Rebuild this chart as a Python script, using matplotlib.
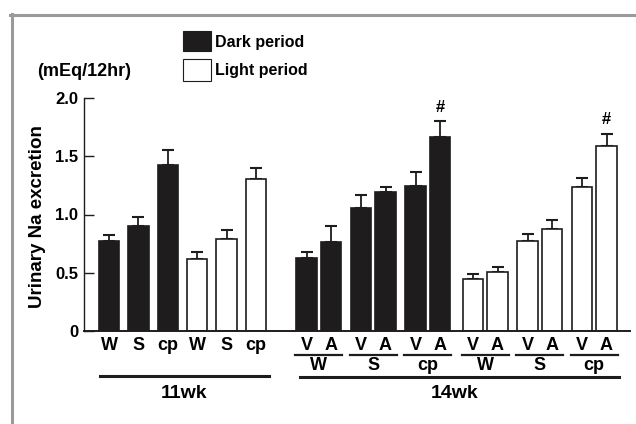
import matplotlib

matplotlib.use("Agg")
import matplotlib.pyplot as plt
from matplotlib.patches import Rectangle
from matplotlib.lines import Line2D
from matplotlib.transforms import blended_transform_factory

plt.rcParams["font.family"] = ["Liberation Sans", "DejaVu Sans"]
plt.rcParams["font.weight"] = "bold"

# --------------------------------------------------------------------------- #
# Data
# --------------------------------------------------------------------------- #
strains = ["W", "S", "cp"]
treatments = ["V", "A"]

wk11_dark = [0.775, 0.905, 1.425]
wk11_dark_err = [0.05, 0.075, 0.125]
wk11_light = [0.62, 0.79, 1.305]
wk11_light_err = [0.06, 0.08, 0.095]

# order: W-V, W-A, S-V, S-A, cp-V, cp-A
wk14_dark = [0.625, 0.765, 1.06, 1.19, 1.245, 1.665]
wk14_dark_err = [0.055, 0.135, 0.11, 0.045, 0.12, 0.135]
wk14_light = [0.445, 0.505, 0.775, 0.875, 1.24, 1.585]
wk14_light_err = [0.045, 0.045, 0.06, 0.08, 0.075, 0.11]

yticks = [0, 0.5, 1.0, 1.5, 2.0]
ytick_labels = ["0", "0.5", "1.0", "1.5", "2.0"]

DARK = "#1e1c1d"
BORDER = "#9a9a9e"
W, H = 636, 424

# --------------------------------------------------------------------------- #
# Layout (x in pixel-like units along the axis)
# --------------------------------------------------------------------------- #
bar_w = 20.5
x11 = [109 + 29.4 * i for i in range(6)]
pair_v = [306.5 + 54.5 * k + (3 if k >= 3 else 0) for k in range(6)]
x14 = []
for v in pair_v:
    x14 += [v, v + 24.5]

fig = plt.figure(figsize=(W / 100, H / 100), dpi=100)
ax = fig.add_axes((84 / W, (H - 331) / H, (630 - 84) / W, (331 - 98) / H))
ax.set_xlim(84, 630)
ax.set_ylim(0, 2.0)


def fy(py):
    return 1 - py / H


bar_kw = dict(width=bar_w, edgecolor=DARK, linewidth=1.2, zorder=2)
err_kw = dict(ecolor=DARK, elinewidth=1.3, capsize=4, capthick=1.5)

ax.bar(x11[:3], wk11_dark, color=DARK, **bar_kw)
ax.bar(x11[3:], wk11_light, color="white", **bar_kw)
ax.bar(x14[:6], wk14_dark, color=DARK, **bar_kw)
ax.bar(x14[6:], wk14_light, color="white", **bar_kw)

all_x = x11 + x14
all_y = wk11_dark + wk11_light + wk14_dark + wk14_light
all_e = wk11_dark_err + wk11_light_err + wk14_dark_err + wk14_light_err
ax.errorbar(all_x, all_y, yerr=[[0] * len(all_e), all_e], fmt="none", zorder=1, **err_kw)

# significance marks on the cp-A bars (14wk)
for xi, top in ((x14[5], wk14_dark[5] + wk14_dark_err[5]),
                (x14[11], wk14_light[5] + wk14_light_err[5])):
    ax.annotate("#", (xi, top), xytext=(0, 4.5), textcoords="offset points",
                ha="center", va="bottom", fontsize=12, fontweight="bold")

# axes styling
for s in ("top", "right"):
    ax.spines[s].set_visible(False)
ax.spines["left"].set_linewidth(1.0)
ax.spines["bottom"].set_linewidth(1.4)
ax.spines["bottom"].set_color(DARK)
ax.spines["left"].set_color(DARK)
ax.set_yticks(yticks)
ax.set_yticklabels(ytick_labels)
ax.tick_params(axis="y", direction="in", length=7.5, width=1.0, pad=4,
               labelsize=12, color=DARK)
ax.set_xticks([])

# category labels below the axis
blend = blended_transform_factory(ax.transData, fig.transFigure)
lab_kw = dict(transform=blend, ha="center", va="center", fontweight="bold", fontsize=13)
for x, lab in zip(x11, strains + strains):
    ax.text(x, fy(345), lab, **lab_kw)
for x, lab in zip(x14, treatments * 6):
    ax.text(x, fy(346), lab, **lab_kw)
for k, v in enumerate(pair_v):
    ax.text(v + 12.25, fy(365), strains[k % 3], **lab_kw)
    ax.add_line(Line2D([v - bar_w / 2 - 1, v + 24.5 + bar_w / 2 + 1], [fy(355)] * 2,
                       transform=blend, color=DARK, lw=1.6, clip_on=False))

ax.add_line(Line2D([100, 269], [fy(375.5)] * 2, transform=blend, color=DARK, lw=2.2, clip_on=False))
ax.add_line(Line2D([300, 619], [fy(376.5)] * 2, transform=blend, color=DARK, lw=2.2, clip_on=False))
ax.text(183.5, fy(394), "11wk", transform=blend, ha="center", va="center", fontsize=14, fontweight="bold")
ax.text(455, fy(393), "14wk", transform=blend, ha="center", va="center", fontsize=14, fontweight="bold")

# axis titles
fig.text(38 / W, fy(217), "Urinary Na excretion", rotation=90, ha="center", va="center",
         fontsize=13.5, fontweight="bold")
fig.text(84 / W, fy(72), "(mEq/12hr)", ha="center", va="center", fontsize=13, fontweight="bold")

# legend
fig.patches.append(Rectangle((183 / W, fy(51)), 28 / W, 20 / H, transform=fig.transFigure,
                             facecolor=DARK, edgecolor=DARK, lw=0.8))
fig.patches.append(Rectangle((183 / W, fy(80.5)), 28 / W, 21 / H, transform=fig.transFigure,
                             facecolor="white", edgecolor=DARK, lw=0.8))
fig.text(215 / W, fy(42), "Dark period", ha="left", va="center", fontsize=11.5, fontweight="bold")
fig.text(215 / W, fy(70.5), "Light period", ha="left", va="center", fontsize=11.5, fontweight="bold")

# grey frame (top and left edges)
fig.add_artist(Line2D([10 / W, 1], [fy(14.5)] * 2, transform=fig.transFigure, color=BORDER, lw=2.2))
fig.add_artist(Line2D([11.5 / W] * 2, [0, fy(13.5)], transform=fig.transFigure, color=BORDER, lw=2.2))

fig.savefig("out.png", dpi=100)
